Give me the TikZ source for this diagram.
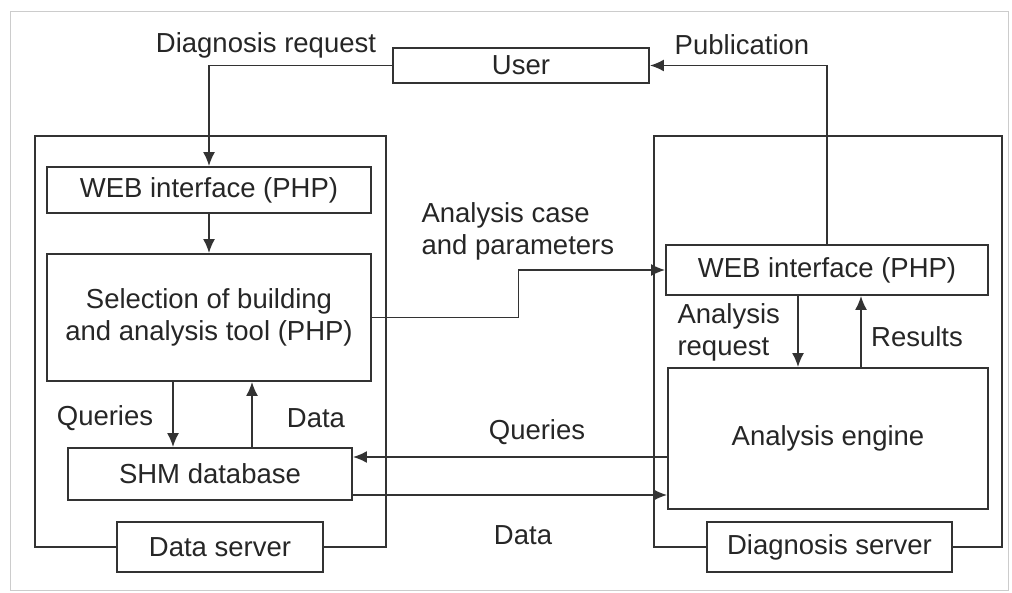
\documentclass[tikz,border=0pt]{standalone}
\usepackage{fontspec}
\setmainfont{Liberation Sans}
\usetikzlibrary{calc,arrows.meta}

\begin{document}
\begin{tikzpicture}[x=1pt,y=-1pt,
        every node/.style={font=\fontsize{27.5}{32}\selectfont, text=black!85},
        box/.style={draw=black!80, line width=1.8pt, fill=white, inner sep=0pt},
        arr/.style={draw=black!80, line width=1.8pt, -{Latex[length=14pt,width=12pt]}},
        server/.style={draw=black!80, line width=1.8pt}]
        \useasboundingbox (0,0) rectangle (1012,593);
        \draw[black!20, line width=1pt] (10,12) rectangle (1008,590);
        % the two servers
        \draw[server] (35,136) rectangle (386,547);
        \draw[server] (654,136) rectangle (1002,547);
        % boxes
        \node[box, minimum width=256, minimum height=35] (user) at (521,65.5) {User};
        \node[box, minimum width=324, minimum height=46] (webL) at (209,190) {WEB interface (PHP)};
        \node[box, minimum width=324, minimum height=127, align=center] (sel) at (209,317.5)
            {Selection of building\\and analysis tool (PHP)};
        \node[box, minimum width=284, minimum height=52] (shm) at (210,474) {SHM database};
        \node[box, minimum width=206, minimum height=50] (dserv) at (220,547) {Data server};
        \node[box, minimum width=322, minimum height=50] (webR) at (827,270) {WEB interface (PHP)};
        \node[box, minimum width=320, minimum height=141] (engine) at (828,438.5) {Analysis engine};
        \node[box, minimum width=245, minimum height=50] (dgserv) at (829.5,547) {Diagnosis server};
        % labels
        \node (lreq) at (266,45) {Diagnosis request};
        \node (lpub) at (742,45) {Publication};
        \node[align=left, anchor=west] (lcase) at (418,231) {Analysis case\\and parameters};
        \node (lqL) at (105,418) {Queries};
        \node (ldL) at (316,418) {Data};
        \node[align=left, anchor=west] (lareq) at (674,332) {Analysis\\request};
        \node (lres) at (917,337) {Results};
        \node (lqR) at (537,432) {Queries};
        \node (ldR) at (523,535) {Data};
        % connectors
        \draw[arr] (user.west) -| (webL.north);
        \draw[arr] (webL.south) -- (sel.north);
        \draw[arr] (webR.north) |- (user.east);
        \draw[arr] (sel.east) -| ($(sel.east)!0.5!(webR.west)$) |- (webR.west);
        \draw[arr] ([xshift=-36pt]sel.south) -- ([xshift=-36pt]sel.south |- shm.north);
        \draw[arr] ([xshift=43pt]sel.south |- shm.north) -- ([xshift=43pt]sel.south);
        \draw[arr] ([xshift=-29pt]webR.south) -- ([xshift=-29pt]webR.south |- engine.north);
        \draw[arr] ([xshift=34pt]webR.south |- engine.north) -- ([xshift=34pt]webR.south);
        \draw[arr] ([yshift=-18.5pt]engine.west) -- ([yshift=-18.5pt]engine.west -| shm.east);
        \draw[arr] ([yshift=-21pt]shm.east) -- ([yshift=-21pt]shm.east -| engine.west);
\end{tikzpicture}
\end{document}
